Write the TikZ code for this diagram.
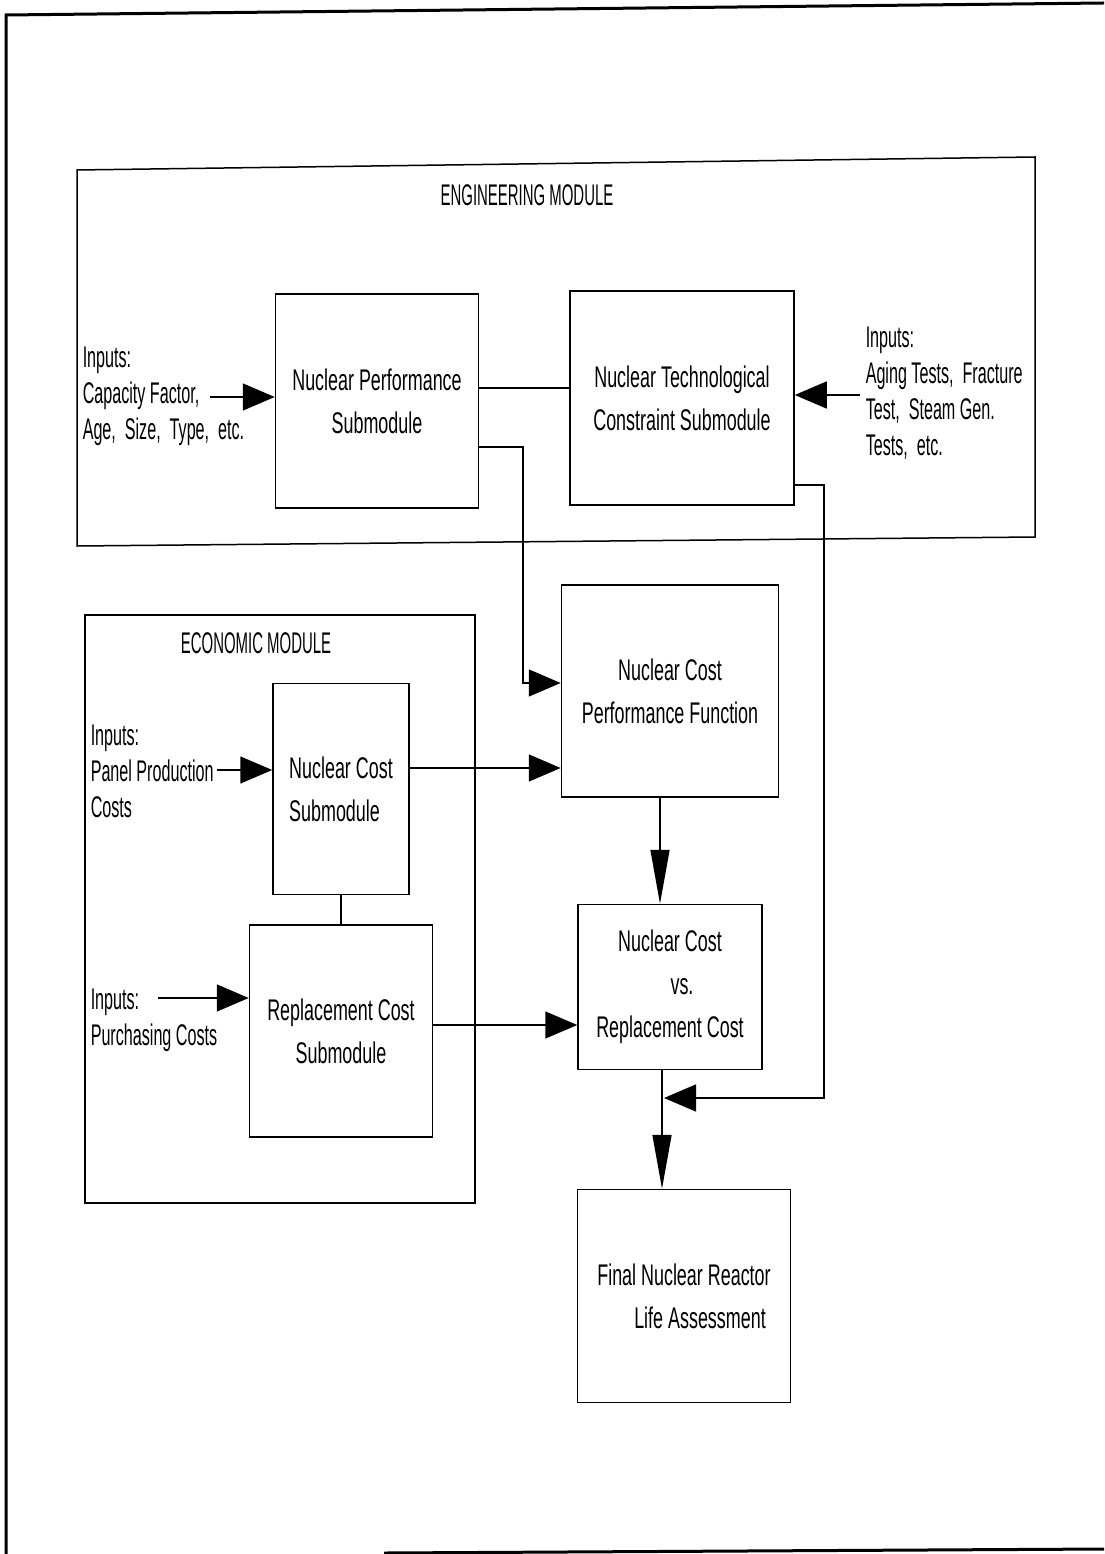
\documentclass[tikz,border=0pt]{standalone}
\usepackage{fontspec}
\setmainfont{Liberation Sans}[FakeStretch=0.6]
\newfontfamily\inpfont{Liberation Sans}[FakeStretch=0.54]
\newfontfamily\capfont{Liberation Sans}[FakeStretch=0.5]
\usetikzlibrary{arrows.meta}

\tikzset{
  blk/.style={draw, line width=0.3mm, align=center, inner sep=0pt,
    font=\fontsize{17}{24.5}\selectfont},
  inp/.style={anchor=west, align=left, inner sep=0pt,
    font=\inpfont\fontsize{17}{20.5}\selectfont},
  ttl/.style={font=\capfont\fontsize{17}{20.5}\selectfont},
  harr/.style={-{Triangle[length=6.4mm,width=5.4mm]}},
  varr/.style={-{Triangle[length=10.8mm,width=3.8mm]}},
}

\begin{document}
\begin{tikzpicture}[x=0.2mm, y=-0.2mm, line width=0.3mm]
\useasboundingbox (0,0) rectangle (1104,1554);

% Page frame
\draw[line width=0.6mm] (6,1554) -- (6,15) -- (1104,3);
\draw[line width=0.6mm] (384,1553) -- (1104,1549);

% Engineering module
\draw (77,170) -- (1035,157) -- (1035,537) -- (77,546) -- cycle;
\node[ttl] (engtitle) at (527,195) {ENGINEERING MODULE};
\node[blk, minimum width=40.6mm, minimum height=42.8mm] (nps) at (377,401)
  {Nuclear Performance\\Submodule};
\node[blk, minimum width=44.8mm, minimum height=42.8mm] (ntc) at (682,398)
  {Nuclear Technological\\Constraint Submodule};
\node[inp] (incap) at (82,396) {Inputs:\\Capacity Factor,\\Age,\ \ Size,\ \ Type,\ \ etc.};
\node[inp] (intest) at (865,393) {Inputs:\\Aging Tests,\ \ Fracture\\Test,\ \ Steam Gen.\\Tests,\ \ etc.};

% Economic module
\draw (85,615) rectangle (475,1203);
\node[ttl] (ecotitle) at (256,643) {ECONOMIC MODULE};
\node[blk, align=left, minimum width=27.2mm, minimum height=42.2mm] (ncs) at (341,789)
  {Nuclear Cost\\Submodule};
\node[blk, minimum width=36.6mm, minimum height=42.4mm] (rcs) at (341,1031)
  {Replacement Cost\\Submodule};
\node[inp] (inpanel) at (90,771) {Inputs:\\Panel Production\\Costs};
\node[inp] (inpurch) at (90,1020) {Inputs:\\Purchasing Costs};

% Cost functions and assessment
\node[blk, minimum width=43.4mm, minimum height=42.4mm] (ncpf) at (670,691)
  {Nuclear Cost\\Performance Function};
\node[blk, minimum width=36.8mm, minimum height=33mm] (ncvr) at (670,987)
  {Nuclear Cost\\\hspace*{4.8mm}vs.\\Replacement Cost};
\node[blk, minimum width=42.6mm, minimum height=42.6mm] (final) at (684,1296)
  {Final Nuclear Reactor\\\hspace*{6.4mm}Life Assessment};

% Inputs
\coordinate (capend) at (210,397);
\coordinate (testend) at (860,395);
\coordinate (panelend) at (217,770);
\coordinate (purchend) at (158,998);
\draw[harr] (capend) -- (capend -| nps.west);
\draw[harr] (testend) -- (testend -| ntc.east);
\draw[harr] (panelend) -- (panelend -| ncs.west);
\draw[harr] (purchend) -- (purchend -| rcs.west);

% Links
\draw (nps.east |- 0,388) -- (ntc.west |- 0,388);
\draw (ncs.south) -- (ncs.south |- rcs.north);
\draw[harr] (nps.east |- 0,447) -| (523,683) -- (ncpf.west |- 0,683);
\draw[harr] (ncs.east |- 0,768) -- (ncpf.west |- 0,768);
\draw[harr] (rcs.east |- 0,1025) -- (ncvr.west |- 0,1025);
\draw[varr] (ncpf.south -| 660,0) -- (ncvr.north -| 660,0);
\draw[varr] (ncvr.south -| 662,0) -- (final.north -| 662,0);
\coordinate (merge) at (664,1098);
\draw[harr] (ntc.east |- 0,485) -| (824,1098) -- (merge);
\end{tikzpicture}
\end{document}
